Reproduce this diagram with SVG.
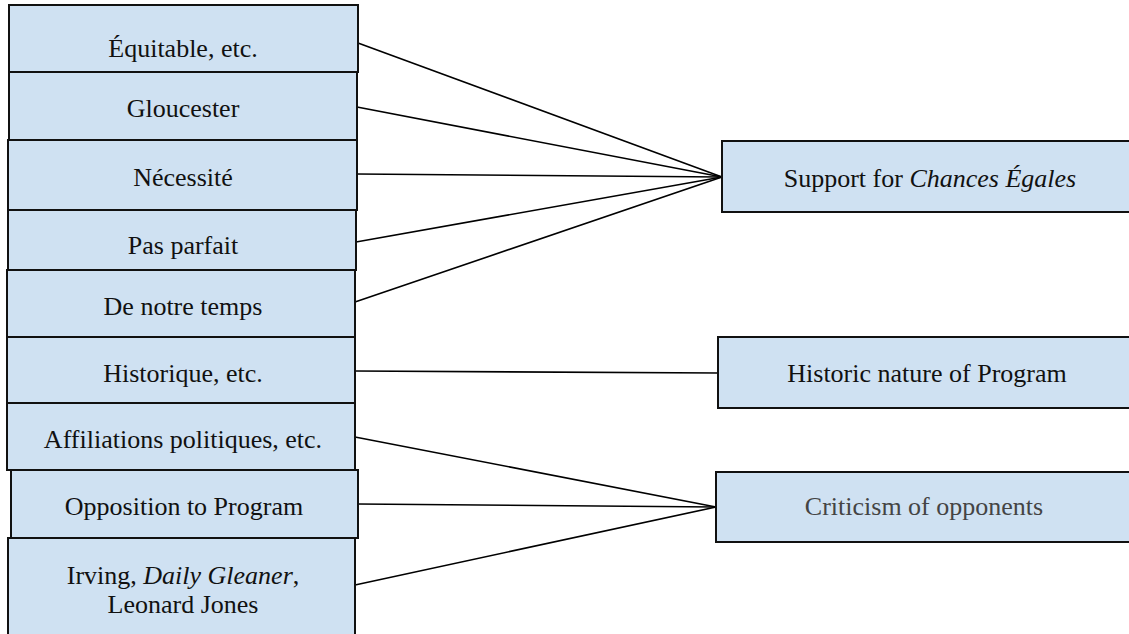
<svg xmlns="http://www.w3.org/2000/svg" width="1129" height="634" viewBox="0 0 1129 634">
<style>
.box{fill:#CFE1F2;stroke:#111;stroke-width:2}
.t{font-family:'Liberation Serif','Times New Roman',serif;font-size:26px;fill:#111;text-anchor:middle}
.c{stroke:#000;stroke-width:1.6;fill:none}
</style>
<rect width="1129" height="634" fill="#fff"/>
<g id="connectors">
<line class="c" x1="358" y1="43" x2="722" y2="177"/>
<line class="c" x1="357" y1="107" x2="722" y2="177"/>
<line class="c" x1="357" y1="174" x2="722" y2="177"/>
<line class="c" x1="356" y1="242" x2="722" y2="177"/>
<line class="c" x1="355" y1="302" x2="722" y2="177"/>
<line class="c" x1="355" y1="371" x2="718" y2="373"/>
<line class="c" x1="355" y1="437" x2="716" y2="507"/>
<line class="c" x1="358" y1="504" x2="716" y2="507"/>
<line class="c" x1="355" y1="585" x2="716" y2="507"/>
</g>
<g id="n1"><rect class="box" x="9" y="5" width="349" height="67"/><text class="t" x="183" y="57">Équitable, etc.</text></g>
<g id="n2"><rect class="box" x="9" y="72" width="348" height="68"/><text class="t" x="183" y="117">Gloucester</text></g>
<g id="n3"><rect class="box" x="8" y="140" width="349" height="70"/><text class="t" x="183" y="186">Nécessité</text></g>
<g id="n4"><rect class="box" x="8" y="210" width="348" height="60"/><text class="t" x="183" y="254">Pas parfait</text></g>
<g id="n5"><rect class="box" x="7" y="270" width="348" height="67"/><text class="t" x="183" y="315">De notre temps</text></g>
<g id="n6"><rect class="box" x="7" y="337" width="348" height="66"/><text class="t" x="183" y="382">Historique, etc.</text></g>
<g id="n7"><rect class="box" x="7" y="403" width="348" height="67"/><text class="t" x="183" y="448">Affiliations politiques, etc.</text></g>
<g id="n8"><rect class="box" x="11" y="470" width="347" height="68"/><text class="t" x="184" y="515">Opposition to Program</text></g>
<g id="n9"><rect class="box" x="8" y="538" width="347" height="110"/><text class="t" x="183" y="584">Irving, <tspan font-style="italic">Daily Gleaner</tspan>,</text><text class="t" x="183" y="613">Leonard Jones</text></g>
<g id="r1"><rect class="box" x="722" y="141" width="416" height="71"/><text class="t" x="930" y="187">Support for <tspan font-style="italic">Chances Égales</tspan></text></g>
<g id="r2"><rect class="box" x="718" y="337" width="418" height="71"/><text class="t" x="927" y="382">Historic nature of Program</text></g>
<g id="r3"><rect class="box" x="716" y="472" width="418" height="70"/><text class="t" x="924" y="515" style="fill:#444">Criticism of opponents</text></g>
</svg>
